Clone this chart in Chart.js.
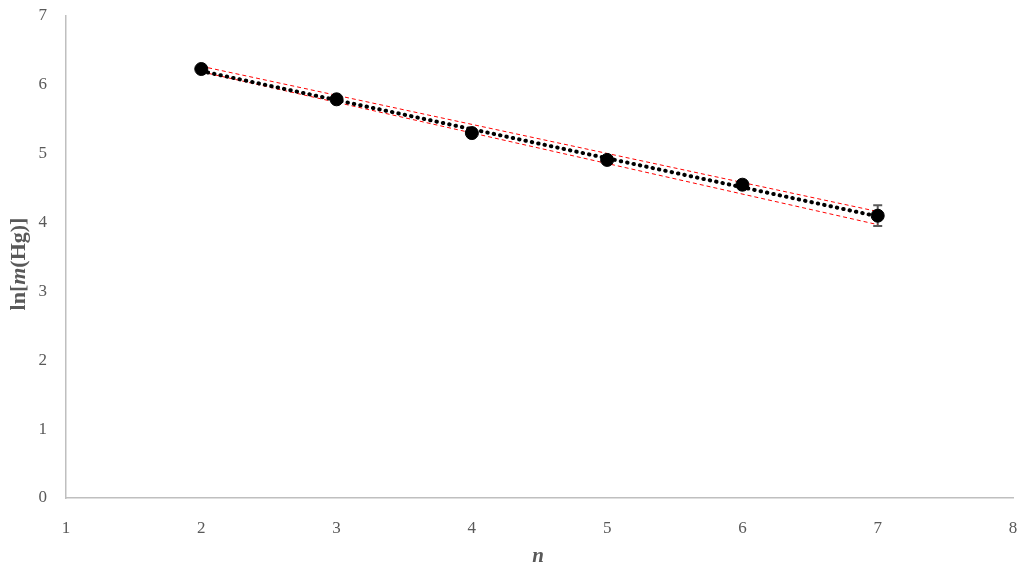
<!DOCTYPE html>
<html>
<head>
<meta charset="utf-8">
<script src="https://cdn.jsdelivr.net/npm/chart.js@4"></script>
<style>
  body { margin: 0; background: #fff; }
  #wrap { width: 1027px; height: 575px; }
</style>
</head>
<body>
<div id="wrap"><canvas id="chart" width="1027" height="575"></canvas></div>
<script>
// measured points
const nValues = [2, 3, 4, 5, 6, 7];
const lnMass = [6.23, 5.79, 5.30, 4.91, 4.55, 4.10];
const lnMassErr = [0.02, 0.02, 0.02, 0.03, 0.05, 0.15];

// fit line and confidence band, at n = 2 and n = 7
const fitN = [2, 7];
const fitLine = [6.20, 4.09];
const bandUpper = [6.27, 4.16];
const bandLower = [6.19, 3.97];

const serif = '"Palatino Linotype", "Book Antiqua", Palatino, "Liberation Serif", "DejaVu Serif", serif';
const textGray = '#595959';

function pts(xs, ys) {
    return xs.map((x, i) => ({ x: x, y: ys[i] }));
}

// error bars, drawn under the markers
const errorBars = {
    id: 'errorBars',
    beforeDatasetsDraw(chart) {
        let ctx = chart.ctx;
        let xs = chart.scales.x, ys = chart.scales.y;
        ctx.save();
        ctx.strokeStyle = '#595959';
        ctx.lineWidth = 2;
        nValues.forEach((n, i) => {
            let px = xs.getPixelForValue(n);
            let top = ys.getPixelForValue(lnMass[i] + lnMassErr[i]);
            let bot = ys.getPixelForValue(lnMass[i] - lnMassErr[i]);
            ctx.beginPath();
            ctx.moveTo(px, top); ctx.lineTo(px, bot);
            ctx.moveTo(px - 4.5, top); ctx.lineTo(px + 4.5, top);
            ctx.moveTo(px - 4.5, bot); ctx.lineTo(px + 4.5, bot);
            ctx.stroke();
        });
        ctx.restore();
    }
};

// axis titles with mixed italic
const axisTitles = {
    id: 'axisTitles',
    afterDraw(chart) {
        let ctx = chart.ctx;
        ctx.save();
        ctx.fillStyle = textGray;
        ctx.textBaseline = 'middle';
        let parts = [
            ['bold 22px ' + serif, 'ln['],
            ['italic bold 22px ' + serif, 'm'],
            ['bold 22px ' + serif, '(Hg)]']
        ];
        let total = 0;
        parts.forEach(p => { ctx.font = p[0]; total += ctx.measureText(p[1]).width; });
        ctx.translate(19, 264);
        ctx.rotate(-Math.PI / 2);
        let x = -total / 2;
        ctx.textAlign = 'left';
        parts.forEach(p => {
            ctx.font = p[0];
            ctx.fillText(p[1], x, 0);
            x += ctx.measureText(p[1]).width;
        });
        ctx.restore();

        ctx.save();
        ctx.fillStyle = textGray;
        ctx.font = 'italic bold 21px ' + serif;
        ctx.textAlign = 'center';
        ctx.textBaseline = 'middle';
        ctx.fillText('n', 538, 557);
        ctx.restore();
    }
};

new Chart(document.getElementById('chart'), {
    type: 'scatter',
    data: {
        datasets: [
            {
                label: 'data',
                data: pts(nValues, lnMass),
                backgroundColor: '#000000',
                borderColor: '#000000',
                pointRadius: 6.5,
                showLine: false
            },
            {
                label: 'fit',
                data: pts(fitN, fitLine),
                showLine: true,
                borderColor: '#000000',
                borderWidth: 4,
                borderDash: [0.5, 6],
                borderCapStyle: 'round',
                pointRadius: 0
            },
            {
                label: 'upper',
                data: pts(fitN, bandUpper),
                showLine: true,
                borderColor: '#ff0000',
                borderWidth: 1,
                borderDash: [4, 3],
                pointRadius: 0
            },
            {
                label: 'lower',
                data: pts(fitN, bandLower),
                showLine: true,
                borderColor: '#ff0000',
                borderWidth: 1,
                borderDash: [4, 3],
                pointRadius: 0
            }
        ]
    },
    options: {
        responsive: false,
        animation: false,
        layout: { padding: { top: 16, right: 14, left: 0, bottom: 0 } },
        plugins: {
            legend: { display: false },
            tooltip: { enabled: false }
        },
        scales: {
            x: {
                type: 'linear',
                min: 1, max: 8,
                afterFit(s) { s.height = 77; },
                grid: { drawOnChartArea: false, drawTicks: true, tickLength: 20, tickColor: 'rgba(0,0,0,0)' },
                border: { display: true, color: '#bfbfbf', width: 1.5 },
                ticks: { stepSize: 1, padding: 0, color: textGray, font: { family: serif, size: 17 } }
            },
            y: {
                min: 0, max: 7,
                afterFit(s) { s.width = 66; },
                grid: { drawOnChartArea: false, drawTicks: true, tickLength: 19, tickColor: 'rgba(0,0,0,0)' },
                border: { display: true, color: '#bfbfbf', width: 1.5 },
                ticks: { stepSize: 1, padding: 0, color: textGray, font: { family: serif, size: 17 } }
            }
        }
    },
    plugins: [errorBars, axisTitles]
});
</script>
</body>
</html>
